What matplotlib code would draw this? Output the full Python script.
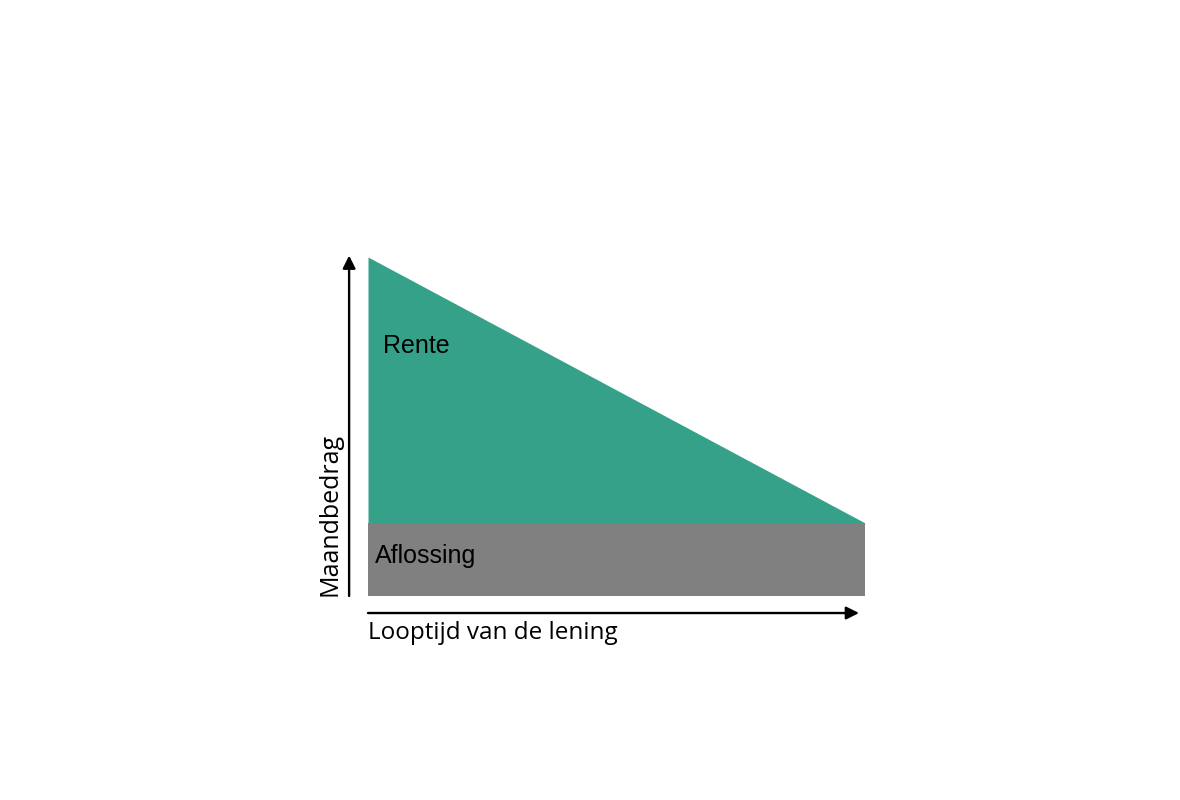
import matplotlib.pyplot as plt

# Lineaire lening: aflossing constant, rente neemt lineair af
looptijd = [0.0, 1.0]
aflossing = [1.0, 1.0]
rente = [3.64, 0.0]

fig = plt.figure(figsize=(11.8, 8), dpi=100)
ax = fig.add_axes([368 / 1180, 204 / 800, 497 / 1180, 339 / 800])

totaal = [a + r for a, r in zip(aflossing, rente)]
ax.fill_between(looptijd, 0, aflossing, color='#808080', linewidth=0)
ax.fill_between(looptijd, aflossing, totaal, color='#36a189', linewidth=0)

ax.set_xlim(0, 1)
ax.set_ylim(0, max(totaal))
ax.axis('off')

# assen als pijlen
arrow = dict(arrowstyle='-|>', color='black', lw=1.7, mutation_scale=19, shrinkA=0, shrinkB=0)
ax.annotate('', xy=(-0.038, max(totaal) + 0.02), xytext=(-0.038, 0),
            arrowprops=arrow, annotation_clip=False)
ax.annotate('', xy=(0.988, -0.233), xytext=(0, -0.233),
            arrowprops=arrow, annotation_clip=False)

ax.text(-0.076, 1.12, 'Maandbedrag', rotation=90, ha='center', va='center',
        fontsize=18, family='Open Sans', clip_on=False)
ax.text(0.0, -0.5, 'Looptijd van de lening', ha='left', va='center',
        fontsize=17.5, family='Open Sans', clip_on=False)

ax.text(0.03, 3.42, 'Rente', ha='left', va='center', fontsize=18, family='Liberation Sans')
ax.text(0.014, 0.55, 'Aflossing', ha='left', va='center', fontsize=18, family='Liberation Sans')

fig.savefig('out.png', dpi=100, facecolor='white')
